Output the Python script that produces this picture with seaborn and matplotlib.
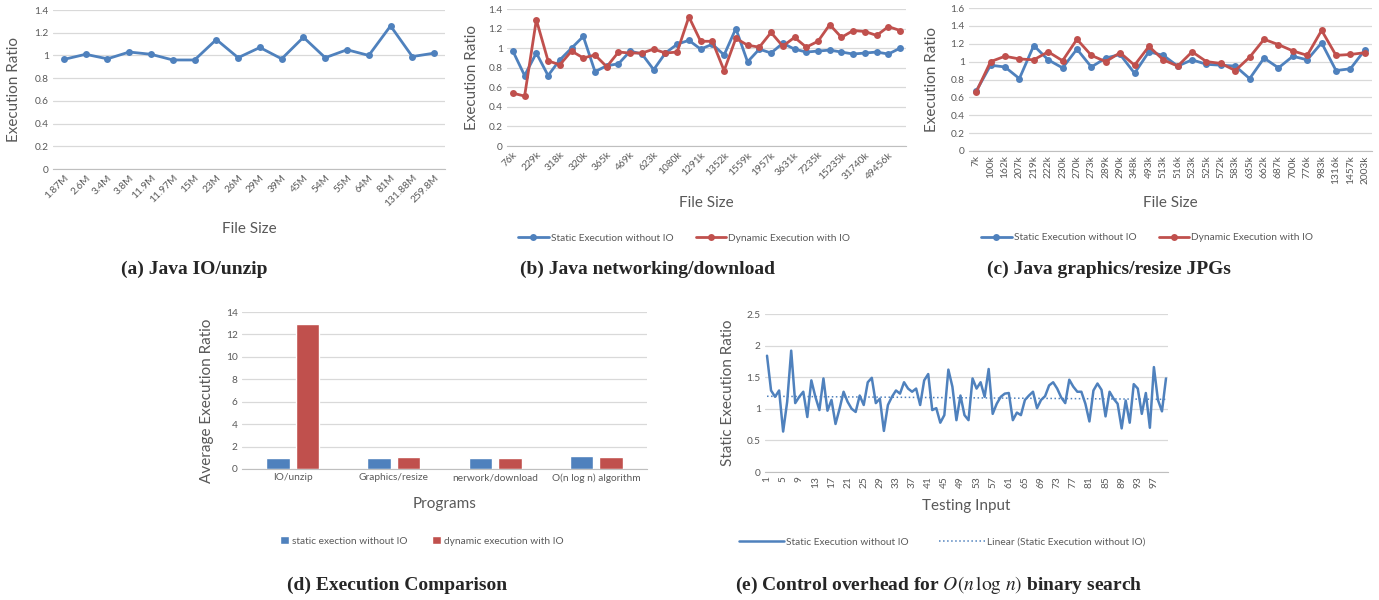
import numpy as np
import pandas as pd
import seaborn as sns
import matplotlib.pyplot as plt
from matplotlib.ticker import FuncFormatter, MultipleLocator

# (a) Java IO/unzip
unzip_sizes = ['1.87M', '2.6M', '3.4M', '3.8M', '11.9M', '11.97M', '15M', '23M', '26M',
               '29M', '39M', '45M', '54M', '55M', '64M', '81M', '131.88M', '259.8M']
unzip_ratio = [0.965, 1.01, 0.97, 1.03, 1.01, 0.96, 0.96, 1.14, 0.98,
               1.07, 0.97, 1.16, 0.98, 1.05, 1.00, 1.26, 0.99, 1.02]

# (b) Java networking/download (34 files, every second one labelled)
download_labels = ['76k', '229k', '318k', '320k', '365k', '469k', '623k', '1080k', '1291k',
                   '1352k', '1559k', '1957k', '3631k', '7235k', '15235k', '31740k', '49456k']
download_static = [0.97, 0.72, 0.95, 0.72, 0.88, 1.00, 1.12, 0.76, 0.82, 0.84, 0.97, 0.94,
                   0.78, 0.95, 1.04, 1.08, 0.99, 1.04, 0.93, 1.20, 0.86, 0.99, 0.95, 1.05,
                   0.99, 0.96, 0.97, 0.98, 0.96, 0.94, 0.95, 0.96, 0.94, 1.00]
download_dynamic = [0.54, 0.51, 1.29, 0.87, 0.83, 0.97, 0.90, 0.93, 0.81, 0.96, 0.95, 0.95,
                    0.99, 0.95, 0.96, 1.32, 1.07, 1.07, 0.77, 1.10, 1.03, 1.01, 1.16, 1.02,
                    1.11, 1.01, 1.07, 1.24, 1.11, 1.18, 1.17, 1.13, 1.22, 1.18]

# (c) Java graphics/resize JPGs
resize_sizes = ['7k', '100k', '162k', '207k', '219k', '222k', '230k', '270k', '273k', '289k',
                '290k', '348k', '493k', '513k', '516k', '523k', '525k', '572k', '583k', '635k',
                '662k', '687k', '700k', '776k', '983k', '1316k', '1457k', '2003k']
resize_static = [0.67, 0.96, 0.94, 0.81, 1.18, 1.02, 0.93, 1.14, 0.94, 1.04, 1.08, 0.87, 1.11, 1.07,
                 0.95, 1.02, 0.97, 0.96, 0.95, 0.81, 1.04, 0.93, 1.06, 1.02, 1.21, 0.90, 0.92, 1.13]
resize_dynamic = [0.66, 1.00, 1.06, 1.03, 1.02, 1.11, 1.01, 1.25, 1.07, 1.00, 1.10, 0.96, 1.17, 1.02,
                  0.95, 1.11, 1.00, 0.98, 0.90, 1.05, 1.25, 1.19, 1.12, 1.07, 1.35, 1.07, 1.08, 1.10]

# (d) Execution comparison
programs = ['IO/unzip', 'Graphics/resize', 'nerwork/download', 'O(n log n) algorithm']
avg_static = [1.0, 1.0, 1.0, 1.17]
avg_dynamic = [12.95, 1.08, 1.0, 1.1]

# (e) binary search, 100 testing inputs
search_ratio = [1.84, 1.29, 1.19, 1.29, 0.64, 1.11, 1.92, 1.09, 1.19, 1.27,
                0.87, 1.45, 1.19, 0.98, 1.48, 0.97, 1.14, 0.76, 1.00, 1.27,
                1.11, 1.00, 0.95, 1.21, 1.06, 1.42, 1.49, 1.09, 1.16, 0.65,
                1.06, 1.19, 1.29, 1.24, 1.42, 1.32, 1.27, 1.32, 1.06, 1.45,
                1.55, 0.98, 1.01, 0.78, 0.90, 1.62, 1.35, 0.82, 1.21, 0.90,
                0.82, 1.48, 1.32, 1.42, 1.19, 1.63, 0.92, 1.08, 1.19, 1.24,
                1.25, 0.82, 0.94, 0.90, 1.14, 1.21, 1.27, 1.01, 1.14, 1.20,
                1.37, 1.42, 1.32, 1.18, 1.09, 1.46, 1.35, 1.27, 1.27, 1.08,
                0.80, 1.29, 1.40, 1.30, 0.88, 1.27, 1.16, 1.08, 0.69, 1.13,
                0.78, 1.39, 1.32, 0.92, 1.25, 0.70, 1.66, 1.14, 0.96, 1.48]

BLUE = '#4F81BD'
RED = '#C0504D'
TXT = '#595959'
GRID = '#D9D9D9'

sns.set_style('white')
plt.rcParams['font.family'] = ['Lato', 'DejaVu Sans']
plt.rcParams['mathtext.fontset'] = 'stix'

fig = plt.figure(figsize=(13.79, 6), dpi=100)


def style_axes(ax, ymax, step):
    ax.set_ylim(0, ymax)
    ax.yaxis.set_major_locator(MultipleLocator(step))
    ax.yaxis.set_major_formatter(FuncFormatter(lambda v, p: f'{v:g}'))
    ax.grid(axis='y', color=GRID, lw=0.9)
    ax.grid(axis='x', visible=False)
    ax.set_axisbelow(True)
    for s in ['top', 'right', 'left']:
        ax.spines[s].set_visible(False)
    ax.spines['bottom'].set_color('#BFBFBF')
    ax.tick_params(colors=TXT, labelsize=7.3, length=0, pad=3)


def set_labels(ax, xlabel, ylabel, xpos, ypos):
    ax.set_xlabel(xlabel, fontsize=11, color=TXT)
    ax.set_ylabel(ylabel, fontsize=11, color=TXT)
    ax.xaxis.set_label_coords(*xpos)
    ax.yaxis.set_label_coords(*ypos)


def line_legend(ax, x, y):
    sns.move_legend(ax, 'center', bbox_to_anchor=(x, y), ncol=2, title=None, frameon=False,
                    fontsize=7.3, labelcolor=TXT, handlelength=3.0, columnspacing=2.2,
                    handletextpad=0.2)


# ---- (a)
ax = fig.add_axes([53 / 1379, 1 - 169 / 600, 392 / 1379, 159 / 600])
df_a = pd.DataFrame({'x': np.arange(len(unzip_sizes)), 'ratio': unzip_ratio})
sns.lineplot(data=df_a, x='x', y='ratio', color=BLUE, lw=2, marker='o', markersize=5,
             markeredgewidth=0, ax=ax)
style_axes(ax, 1.4, 0.2)
ax.set_xlim(-0.5, len(unzip_sizes) - 0.5)
ax.set_xticks(np.arange(len(unzip_sizes)))
ax.set_xticklabels(unzip_sizes, rotation=45, ha='right', rotation_mode='anchor')
ax.set_xticks(np.arange(-0.5, len(unzip_sizes)), minor=True)
ax.tick_params(axis='x', which='minor', length=4, color='#BFBFBF')
set_labels(ax, 'File Size', 'Execution Ratio', (0.5, -0.333), (-0.082, 0.5))

# ---- (b)
ax = fig.add_axes([507 / 1379, 1 - 146 / 600, 399 / 1379, 137 / 600])
n_b = len(download_static)
df_b = pd.DataFrame({
    'x': np.tile(np.arange(n_b), 2),
    'ratio': download_static + download_dynamic,
    'series': ['Static Execution without IO'] * n_b + ['Dynamic Execution with IO'] * n_b,
})
sns.lineplot(data=df_b, x='x', y='ratio', hue='series', palette=[BLUE, RED], lw=2,
             marker='o', markersize=5, markeredgewidth=0, ax=ax)
style_axes(ax, 1.4, 0.2)
ax.set_xlim(-0.5, n_b - 0.5)
ax.set_xticks(np.arange(0, n_b, 2))
ax.set_xticklabels(download_labels, rotation=45, ha='right', rotation_mode='anchor')
set_labels(ax, 'File Size', 'Execution Ratio', (0.5, -0.365), (-0.07, 0.5))
line_legend(ax, 0.444, -0.672)

# ---- (c)
ax = fig.add_axes([969 / 1379, 1 - 151 / 600, 403 / 1379, 143 / 600])
n_c = len(resize_sizes)
df_c = pd.DataFrame({
    'x': np.tile(np.arange(n_c), 2),
    'ratio': resize_static + resize_dynamic,
    'series': ['Static Execution without IO'] * n_c + ['Dynamic Execution with IO'] * n_c,
})
sns.lineplot(data=df_c, x='x', y='ratio', hue='series', palette=[BLUE, RED], lw=2,
             marker='o', markersize=5, markeredgewidth=0, ax=ax)
style_axes(ax, 1.6, 0.2)
ax.set_xlim(-0.5, n_c - 0.5)
ax.set_xticks(np.arange(n_c))
ax.set_xticklabels(resize_sizes, rotation=90)
set_labels(ax, 'File Size', 'Execution Ratio', (0.5, -0.315), (-0.074, 0.5))
line_legend(ax, 0.442, -0.608)

# ---- (d)
ax = fig.add_axes([242 / 1379, 1 - 469 / 600, 405 / 1379, 157 / 600])
df_d = pd.DataFrame({
    'program': programs * 2,
    'value': avg_static + avg_dynamic,
    'series': ['static exection without IO'] * 4 + ['dynamic execution with IO'] * 4,
})
sns.barplot(data=df_d, x='program', y='value', hue='series', palette=[BLUE, RED],
            width=0.58, gap=0.2, saturation=1, ax=ax)
style_axes(ax, 14, 2)
ax.set_xlim(-0.5, 3.5)
set_labels(ax, 'Programs', 'Average Execution Ratio', (0.5, -0.178), (-0.069, 0.433))
sns.move_legend(ax, 'center', bbox_to_anchor=(0.444, -0.459), ncol=2, title=None,
                frameon=False, fontsize=7.3, labelcolor=TXT, handlelength=0.8,
                handleheight=0.8, handletextpad=0.3, columnspacing=2.5)

# ---- (e)
ax = fig.add_axes([765 / 1379, 1 - 472 / 600, 403 / 1379, 158 / 600])
inputs = np.arange(1, len(search_ratio) + 1)
sns.lineplot(x=inputs, y=search_ratio, color=BLUE, lw=1.8, ax=ax,
             label='Static Execution without IO')
sns.regplot(x=inputs, y=np.array(search_ratio), scatter=False, ci=None, ax=ax,
            line_kws=dict(color=BLUE, lw=1.1, ls=':'),
            label='Linear (Static Execution without IO)')
style_axes(ax, 2.5, 0.5)
ax.set_xlim(0.5, len(search_ratio) + 0.5)
ax.set_xticks(np.arange(1, len(search_ratio) + 1, 4))
ax.set_xticklabels([str(i) for i in range(1, len(search_ratio) + 1, 4)], rotation=90)
set_labels(ax, 'Testing Input', 'Static Execution Ratio', (0.5, -0.171), (-0.074, 0.5))
ax.legend(loc='center', bbox_to_anchor=(0.439, -0.443), ncol=2, frameon=False,
          fontsize=7.3, labelcolor=TXT, handlelength=4.5, handletextpad=0.2, columnspacing=3)

# ---- captions
cap = dict(fontsize=14, fontweight='bold', family=['Liberation Serif', 'DejaVu Serif'],
           ha='center', va='center')
fig.text(194 / 1379, 1 - 269 / 600, '(a) Java IO/unzip', **cap)
fig.text(648 / 1379, 1 - 269 / 600, '(b) Java networking/download', **cap)
fig.text(1109 / 1379, 1 - 269 / 600, '(c) Java graphics/resize JPGs', **cap)
fig.text(397 / 1379, 1 - 585 / 600, '(d) Execution Comparison', **cap)
fig.text(939 / 1379, 1 - 585 / 600, r'(e) Control overhead for $O(n\,\log\,n)$ binary search', **cap)

fig.savefig('out.png', dpi=100)
